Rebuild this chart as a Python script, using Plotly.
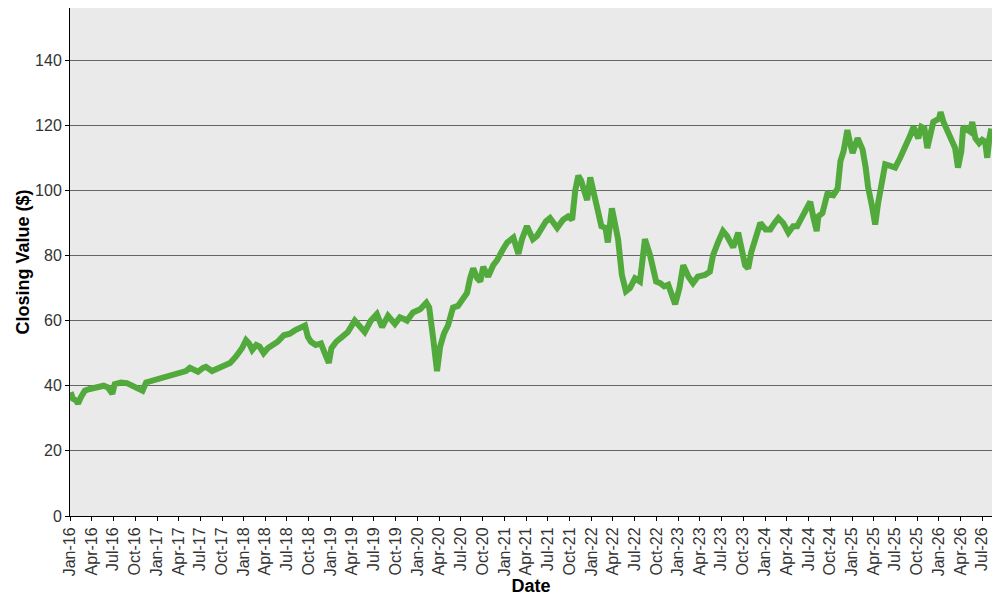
import plotly.graph_objects as go

# closing values (approximate)
dates = [
    "2016-01-04", "2016-01-13", "2016-01-26", "2016-02-04", "2016-02-16", "2016-03-03", "2016-03-24",
    "2016-04-27", "2016-05-22", "2016-06-08", "2016-06-27", "2016-07-07", "2016-08-02", "2016-08-27",
    "2016-09-22", "2016-10-13", "2016-11-01", "2016-11-16", "2016-12-11",
    "2017-01-06", "2017-02-05", "2017-03-04", "2017-04-07", "2017-05-02", "2017-05-19", "2017-06-09",
    "2017-06-22", "2017-07-13", "2017-07-25", "2017-08-20", "2017-09-15", "2017-10-14", "2017-11-04",
    "2017-11-29", "2017-12-24",
    "2018-01-10", "2018-01-23", "2018-02-05", "2018-02-22", "2018-03-08", "2018-03-25", "2018-04-11",
    "2018-05-06", "2018-05-23", "2018-06-18", "2018-07-13", "2018-08-03", "2018-08-24", "2018-09-15",
    "2018-09-27", "2018-10-10", "2018-10-30", "2018-11-21", "2018-12-07", "2018-12-24",
    "2019-01-04", "2019-01-24", "2019-02-18", "2019-03-14", "2019-04-12", "2019-05-03", "2019-05-24",
    "2019-06-19", "2019-07-14", "2019-08-05", "2019-08-30", "2019-09-28", "2019-10-19", "2019-11-05",
    "2019-11-18", "2019-12-13",
    "2020-01-12", "2020-02-07", "2020-02-19", "2020-03-06", "2020-03-23", "2020-04-05", "2020-04-21",
    "2020-05-08", "2020-05-29", "2020-06-19", "2020-07-10", "2020-07-27", "2020-08-09", "2020-08-22",
    "2020-09-08", "2020-09-21", "2020-10-03", "2020-10-24", "2020-11-14", "2020-11-30", "2020-12-26",
    "2021-01-12", "2021-02-07", "2021-02-28", "2021-03-15", "2021-04-05", "2021-04-30", "2021-05-17",
    "2021-06-03", "2021-06-24", "2021-07-11", "2021-08-10", "2021-09-04", "2021-09-25", "2021-10-12",
    "2021-10-25", "2021-11-07", "2021-11-19", "2021-12-01", "2021-12-14", "2021-12-27",
    "2022-01-09", "2022-01-26", "2022-02-12", "2022-03-01", "2022-03-11", "2022-03-28", "2022-04-10",
    "2022-04-23", "2022-05-09", "2022-05-26", "2022-06-12", "2022-07-03", "2022-07-24", "2022-08-14",
    "2022-09-05", "2022-09-18", "2022-09-30", "2022-10-17", "2022-11-03", "2022-11-20", "2022-12-06",
    "2022-12-19",
    "2023-01-06", "2023-01-22", "2023-02-13", "2023-03-04", "2023-03-24", "2023-04-23", "2023-05-14",
    "2023-05-27", "2023-06-17", "2023-07-08", "2023-07-25", "2023-08-20", "2023-09-10", "2023-09-27",
    "2023-10-09", "2023-10-22", "2023-11-04", "2023-11-21", "2023-12-12",
    "2024-01-03", "2024-01-23", "2024-02-10", "2024-02-26", "2024-03-17", "2024-04-08", "2024-04-28",
    "2024-05-15", "2024-06-06", "2024-06-22", "2024-07-09", "2024-07-21", "2024-08-05", "2024-08-12",
    "2024-08-29", "2024-09-19", "2024-10-14", "2024-11-01", "2024-11-13", "2024-11-26", "2024-12-12",
    "2024-12-25",
    "2025-01-03", "2025-01-24", "2025-02-14", "2025-02-27", "2025-03-09", "2025-03-26", "2025-04-08",
    "2025-04-20", "2025-04-29", "2025-05-20", "2025-06-10", "2025-07-01", "2025-07-22", "2025-08-12",
    "2025-09-03", "2025-09-16", "2025-10-06", "2025-10-19", "2025-11-01", "2025-11-13", "2025-11-26",
    "2025-12-08",
    "2026-01-01", "2026-01-08", "2026-01-20", "2026-02-07", "2026-02-23", "2026-03-10", "2026-03-22",
    "2026-04-05", "2026-04-13", "2026-04-26", "2026-05-12", "2026-05-21", "2026-06-03", "2026-06-19",
    "2026-07-02", "2026-07-14", "2026-07-23", "2026-08-01", "2026-08-09",
]

closes = [
    38, 36, 35.5, 34.5, 36.5, 38.5, 39,
    39.8, 40, 39.5, 37.5, 40.5, 41, 40.8,
    39.8, 39.5, 38.5, 41, 41.5,
    42, 43, 43.5, 44, 44.5, 45.5, 45,
    44.3, 45.5, 45.8, 44.5, 45.2, 46, 47,
    49, 51.5,
    54, 53, 51, 52.5, 52, 50, 51.5,
    52.5, 53.5, 55.5, 56, 57, 58, 58.5,
    55, 53.5, 52.5, 53, 50, 47,
    51.5, 53.5, 55, 56.5, 60, 58.5, 56.5,
    60, 62, 58, 61.5, 59, 61, 60.5,
    60, 62.5,
    63.5, 65.5, 64, 55, 44.5, 52, 56,
    58.5, 64, 64.5, 67, 68.5, 73, 76,
    73, 72, 76.5, 73.5, 77, 78.5, 82,
    84, 85.5, 80.5, 85, 89, 85, 86,
    88, 90.5, 91.5, 88.5, 91, 92, 91,
    100, 104.5, 103, 100, 97, 104,
    100, 93, 89, 88.5, 84, 94.5, 90,
    85, 74, 69, 70, 73, 72, 85,
    80, 76, 72, 71.5, 70.5, 71, 67,
    65,
    70, 77, 73.5, 71.5, 73.5, 74, 75,
    80, 84, 87.5, 86, 82.5, 87, 82,
    77, 76, 81, 85, 90,
    88, 88, 90, 91.5, 90, 87, 89,
    89, 92, 94, 96.5, 92, 87.5, 92,
    93, 99, 98.5, 100.5, 109, 112, 118.5,
    114,
    111.5, 116, 112.5, 107, 101, 95, 89.5,
    96, 100, 108, 107.5, 107, 110, 113,
    117, 119.5, 116, 119.5, 119, 113, 118,
    121,
    122, 124, 121, 118, 116, 113, 107,
    112, 119.5, 119, 118, 121, 116, 114.5,
    115.5, 115, 110, 116, 119,
]

tick_font = dict(family="Liberation Sans, Arial, sans-serif", size=16, color="#333333")
title_font = dict(family="Liberation Sans, Arial, sans-serif", size=18, color="black")

fig = go.Figure()

fig.add_trace(go.Scatter(x=dates, y=closes, mode="lines",
                         line=dict(color="#52A93C", width=6),
                         name="Close"))

# the page body adds an 8px offset, so the figure is sized 992x592
fig.update_layout(
    width=992, height=592,
    margin=dict(l=62, r=8, t=0, b=84),
    paper_bgcolor="white",
    plot_bgcolor="#EAEAEA",
    showlegend=False,
)

fig.update_xaxes(
    range=["2016-01-01", "2026-08-12"],
    dtick="M3", tick0="2016-01-01", tickformat="%b-%y", tickangle=-90,
    tickfont=tick_font,
    ticks="outside", ticklen=4, tickcolor="black",
    showgrid=False, showline=True, linecolor="black", linewidth=1, mirror=True,
    automargin=False,
    title=dict(text="<b>Date</b>", font=title_font, standoff=0),
)

fig.update_yaxes(
    range=[0, 156.0], dtick=20,
    tickfont=tick_font,
    ticks="outside", ticklen=4, tickcolor="black",
    showgrid=True, gridcolor="#666666", gridwidth=1,
    showline=True, linecolor="black", linewidth=1, mirror=True,
    zeroline=False, automargin=False,
    title=dict(text="<b>Closing Value ($)</b>", font=title_font, standoff=0),
)

fig.write_html("out.html")
